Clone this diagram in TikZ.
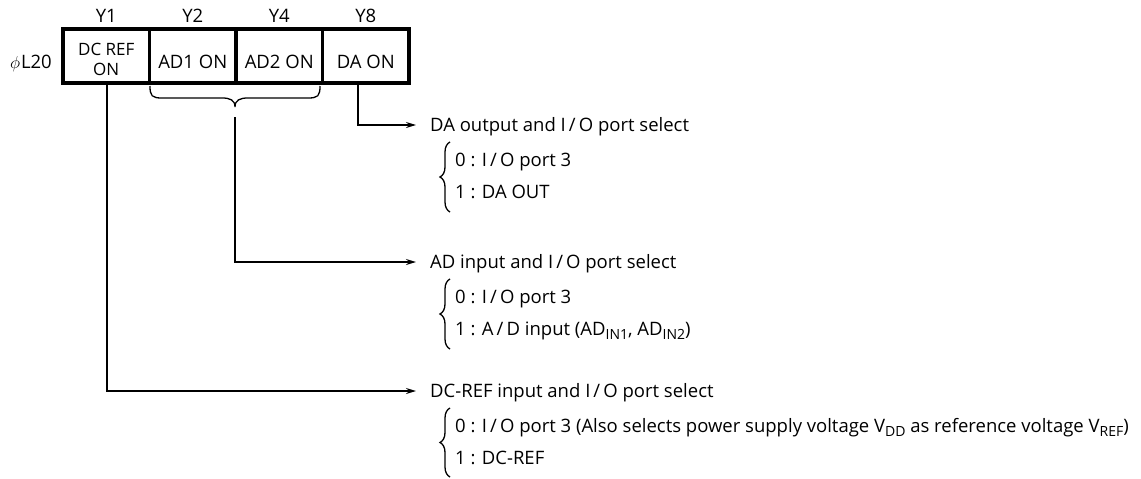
\documentclass[tikz,border=0pt]{standalone}
\usepackage{fontspec}
\setmainfont{Open Sans}
\usetikzlibrary{arrows.meta,decorations.pathreplacing}
\newcommand\sbx[1]{\raisebox{-0.45ex}{\fontsize{14}{14}\selectfont #1}}
\begin{document}
\begin{tikzpicture}[x=1pt,y=-1pt,
  font=\fontsize{18.5}{22}\selectfont,
  reg/.style={draw, line width=3.2pt, minimum width=86.5pt, minimum height=54pt,
    inner sep=0pt, outer sep=0pt, anchor=north west},
  txt/.style={inner sep=0pt, text height=13pt, text depth=0pt},
  lbl/.style={txt, anchor=west},
  arr/.style={line width=1.4pt, -{Stealth[length=10pt,width=6pt]}},
  optbrace/.style={line width=1.3pt, decorate, decoration={brace, amplitude=10pt}}
]
\useasboundingbox (0,0) rectangle (1141,479);

% register boxes
\node[reg] (b1) at (63,29) {};
\node[reg] (b2) at (149.5,29) {};
\node[reg] (b3) at (236,29) {};
\node[reg] (b4) at (322.5,29) {};

% texts in boxes
\node[txt, font=\fontsize{17}{19}\selectfont] (t1a) at (b1.center |- 0,49) {DC REF};
\node[txt, font=\fontsize{17}{19}\selectfont] (t1b) at (b1.center |- 0,69) {ON};
\node[txt] (t2) at (b2.center |- 0,62) {AD1 ON};
\node[txt] (t3) at (b3.center |- 0,62) {AD2 ON};
\node[txt] (t4) at (b4.center |- 0,62) {DA ON};

% bit labels
\node[txt] (y1) at (b1.center |- 0,16) {Y1};
\node[txt] (y2) at (b2.center |- 0,16) {Y2};
\node[txt] (y4) at (b3.center |- 0,16) {Y4};
\node[txt] (y8) at (b4.center |- 0,16) {Y8};
\node[txt, anchor=east] (reg) at (52,62) {$\phi$\kern1pt L20};

% brace under AD1/AD2
\coordinate (bl) at (150,86);
\coordinate (br) at (320,86);
\coordinate (btip) at (235,107);
\draw[line width=1.3pt] (bl) .. controls (150,96) and (152,98) .. (162,98)
  -- (222,98) .. controls (230,98) and (235,100) .. (btip)
  .. controls (235,100) and (240,98) .. (248,98)
  -- (308,98) .. controls (318,98) and (320,96) .. (br);

% headers
\node[lbl] (h1) at (430,125) {DA output and I\,/\,O port select};
\node[lbl] (h2) at (430,262) {AD input and I\,/\,O port select};
\node[lbl] (h3) at (430,391) {DC-REF input and I\,/\,O port select};

% options
\node[lbl] (o10) at (455,160) {0 : I\,/\,O port 3};
\node[lbl] (o11) at (455,192) {1 : DA OUT};
\node[lbl] (o20) at (455,297) {0 : I\,/\,O port 3};
\node[lbl] (o21) at (455,329) {1 : A\,/\,D input (AD\sbx{IN1}, AD\sbx{IN2})};
\node[lbl] (o30) at (455,426) {0 : I\,/\,O port 3 (Also selects power supply voltage V\sbx{DD} as reference voltage V\sbx{REF})};
\node[lbl] (o31) at (455,458) {1 : DC-REF};

\draw[optbrace] (450,212) -- (450,142);
\draw[optbrace] (450,349) -- (450,279);
\draw[optbrace] (450,477) -- (450,408);

% connectors
\coordinate (daS) at (358,85);
\coordinate (adS) at (235,117);
\coordinate (dcS) at (107,85);
\draw[arr] (daS) |- ([xshift=-14pt]h1.west);
\draw[arr] (adS) |- ([xshift=-14pt]h2.west);
\draw[arr] (dcS) |- ([xshift=-14pt]h3.west);
\end{tikzpicture}
\end{document}
